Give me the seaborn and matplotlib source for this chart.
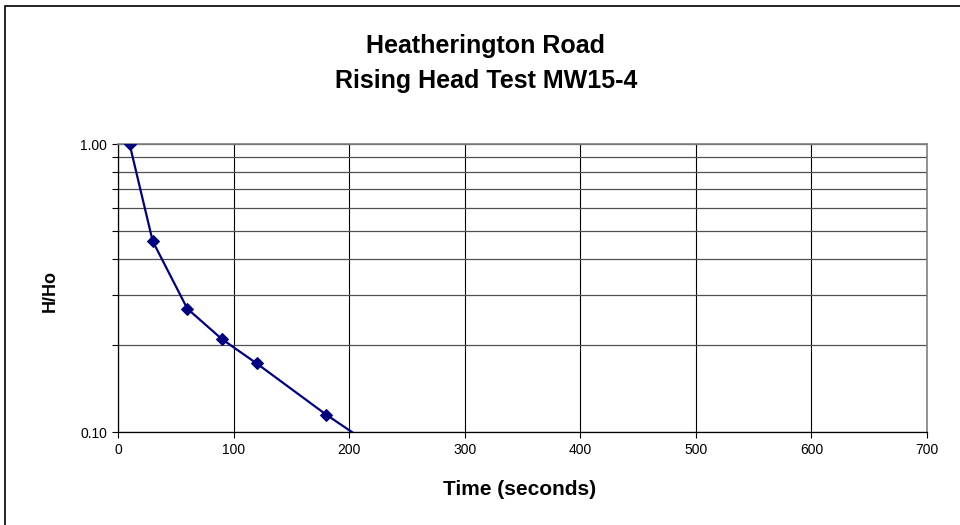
import matplotlib
matplotlib.use("Agg")
import matplotlib.pyplot as plt
from matplotlib.ticker import FixedLocator, FixedFormatter, NullFormatter
from matplotlib.patches import Rectangle
import seaborn as sns
import pandas as pd

# Rising head test readings
time_s = [10, 30, 60, 90, 120, 180, 240]
h_ratio = [1.00, 0.46, 0.268, 0.210, 0.173, 0.115, 0.079]

x_ticks = [0, 100, 200, 300, 400, 500, 600, 700]
y_major = [0.10, 1.00]
y_labels = ["0.10", "1.00"]
y_minor = [0.2, 0.3, 0.4, 0.5, 0.6, 0.7, 0.8, 0.9]

sns.set_style("white")
plt.rcParams["font.family"] = ["Liberation Sans", "DejaVu Sans"]
plt.rcParams["text.color"] = "black"
plt.rcParams["axes.labelcolor"] = "black"
plt.rcParams["xtick.color"] = "black"
plt.rcParams["ytick.color"] = "black"

df = pd.DataFrame({"Time (seconds)": time_s, "H/Ho": h_ratio})

fig = plt.figure(figsize=(9.6, 5.25), dpi=100)
ax = fig.add_axes([118 / 960, 1 - 432 / 525, (927 - 118) / 960, (432 - 144) / 525])

sns.lineplot(data=df, x="Time (seconds)", y="H/Ho", ax=ax, color="#000080",
             marker="D", markersize=6, markeredgecolor="#000080",
             linewidth=1.6, sort=False, zorder=5)

ax.set_yscale("log")
ax.set_xlim(0, 700)
ax.set_ylim(0.1, 1.0)

ax.xaxis.set_major_locator(FixedLocator(x_ticks))
ax.yaxis.set_major_locator(FixedLocator(y_major))
ax.yaxis.set_major_formatter(FixedFormatter(y_labels))
ax.yaxis.set_minor_locator(FixedLocator(y_minor))
ax.yaxis.set_minor_formatter(NullFormatter())

ax.tick_params(axis="both", which="both", direction="out", length=4, width=0.8,
               color="black", labelcolor="black", labelsize=10, pad=4,
               left=True, bottom=True)

ax.grid(axis="x", which="major", color="black", linewidth=0.8)
ax.grid(axis="y", which="both", color="#505050", linewidth=0.9)

for side in ("left", "bottom"):
    ax.spines[side].set_color("black")
    ax.spines[side].set_linewidth(0.9)
for side in ("top", "right"):
    ax.spines[side].set_color("#808080")
    ax.spines[side].set_linewidth(1.2)

ax.set_xlabel("Time (seconds)", fontsize=15, fontweight="bold", color="black")
ax.xaxis.label.set_verticalalignment("baseline")
ax.xaxis.set_label_coords(0.496, (432 - 495) / 288)

ax.set_ylabel("H/Ho", fontsize=13, fontweight="bold", color="black")
ax.yaxis.label.set_verticalalignment("baseline")
ax.yaxis.set_label_coords((55 - 118) / 809, (432 - 291.5) / 288)

fig.text(486 / 960, 1 - 53 / 525, "Heatherington Road", ha="center",
         va="baseline", fontsize=18, fontweight="bold", color="black")
fig.text(486 / 960, 1 - 88 / 525, "Rising Head Test MW15-4", ha="center",
         va="baseline", fontsize=18, fontweight="bold", color="black")

# Outer chart frame
fig.patches.append(Rectangle((5 / 960, -0.05), 1.1, 1 - 6 / 525 + 0.05,
                             transform=fig.transFigure, fill=False,
                             edgecolor="black", linewidth=1.2))

fig.savefig("out.png", dpi=100)
